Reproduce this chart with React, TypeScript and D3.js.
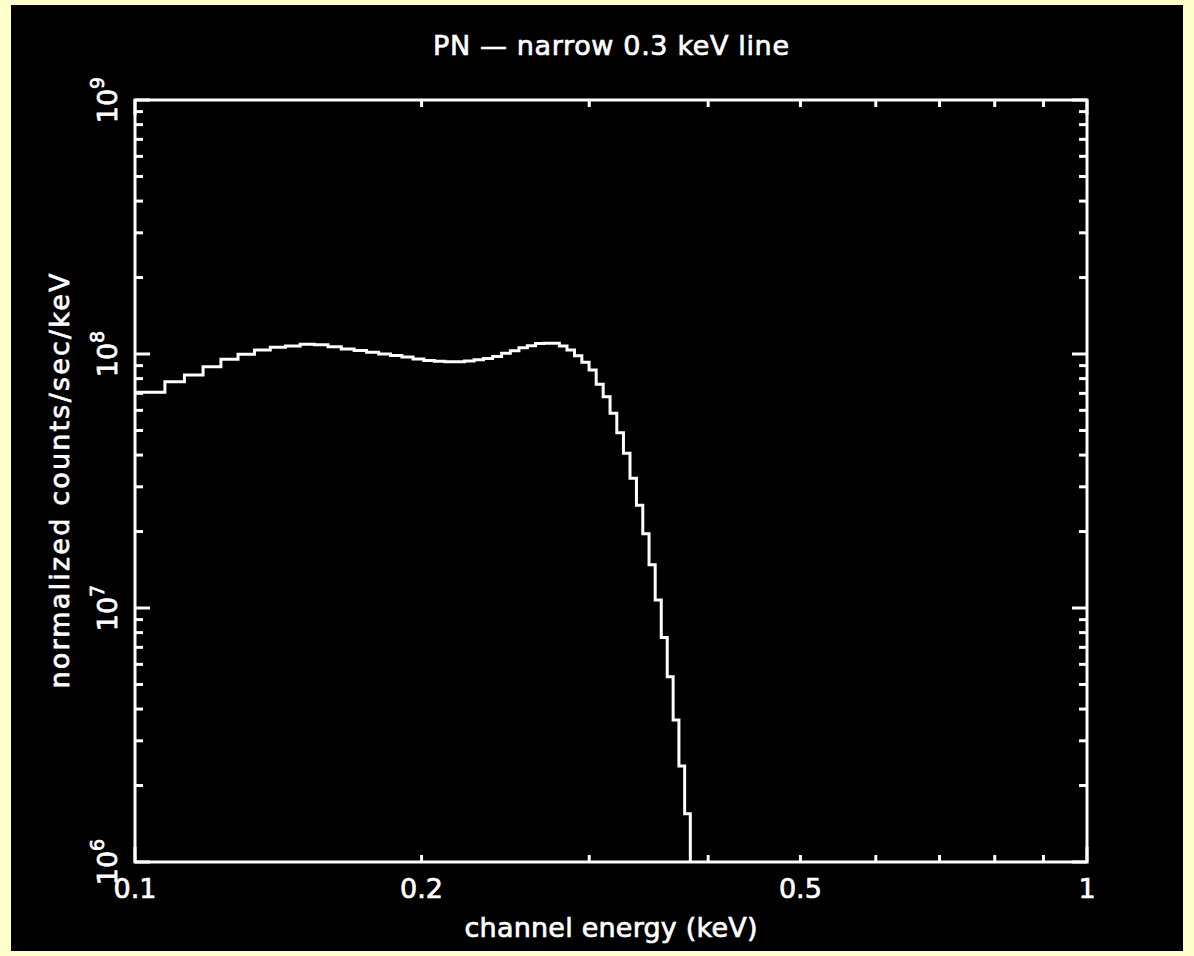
import React from "react";
import * as d3 from "d3";

// Channel energy bin edges (keV) of the model spectrum
const binEdges = [
  0.0971, 0.1023, 0.1075, 0.1127, 0.1179, 0.1231, 0.1283, 0.1335, 0.1387, 0.1439,
  0.1491, 0.1543, 0.1595, 0.1647, 0.1699, 0.1751, 0.1803, 0.1855, 0.1907, 0.1959,
  0.2011, 0.2063, 0.2115, 0.2167, 0.2219, 0.2271, 0.2323, 0.2375, 0.2427, 0.2479,
  0.2531, 0.2583, 0.2635, 0.2687, 0.2739, 0.2791, 0.2843, 0.2895, 0.2947, 0.2999,
  0.3051, 0.3103, 0.3155, 0.3207, 0.3259, 0.3311, 0.3363, 0.3415, 0.3467, 0.3519,
  0.3571, 0.3623, 0.3675, 0.3727, 0.3779, 0.3831, 0.3883,
];

// Normalized counts/sec/keV in each bin
const counts = [
  7.07e7, 7.07e7, 7.78e7, 8.27e7, 8.91e7, 9.53e7, 9.97e7, 1.037e8, 1.063e8, 1.075e8,
  1.092e8, 1.087e8, 1.068e8, 1.046e8, 1.032e8, 1.016e8, 1.0e8, 9.87e7, 9.73e7, 9.56e7,
  9.43e7, 9.37e7, 9.33e7, 9.33e7, 9.38e7, 9.49e7, 9.6e7, 9.78e7, 1.006e8, 1.03e8,
  1.059e8, 1.078e8, 1.1e8, 1.102e8, 1.102e8, 1.075e8, 1.037e8, 9.85e7, 9.28e7, 8.65e7,
  7.6e7, 6.79e7, 5.84e7, 4.9e7, 4.07e7, 3.24e7, 2.54e7, 1.96e7, 1.48e7, 1.075e7,
  7.66e6, 5.36e6, 3.62e6, 2.39e6, 1.55e6, 6.0e5,
];

const xTickLabels = [0.1, 0.2, 0.5, 1];
const yDecadeExponents = [6, 7, 8, 9];

const TITLE = "PN — narrow 0.3 keV line";
const X_TITLE = "channel energy (keV)";
const Y_TITLE = "normalized counts/sec/keV";

const W = 1194;
const H = 956;
const M = { left: 135, top: 100, right: 1087, bottom: 862 };
const FONT = "'DejaVu Sans', sans-serif";
const FG = "#ffffff";
const TEXT_STROKE = 0.7;

export default function App() {
  const x = d3.scaleLog().domain([0.1, 1]).range([M.left, M.right]);
  const y = d3.scaleLog().domain([1e6, 1e9]).range([M.bottom, M.top]);

  const pts: [number, number][] = binEdges.map((e, i) => [
    e,
    counts[Math.min(i, counts.length - 1)],
  ]);
  const stepLine = d3
    .line<[number, number]>()
    .x((d) => x(d[0]))
    .y((d) => y(d[1]))
    .curve(d3.curveStepAfter);

  const xTicks = x.ticks();
  const yTicks = y.ticks();
  const isDecade = (v: number) => Math.abs(Math.log10(v) - Math.round(Math.log10(v))) < 1e-6;

  const fmtX = (v: number) => (v >= 1 ? String(v) : String(+v.toFixed(1)));

  const textProps = {
    fill: FG,
    stroke: FG,
    strokeWidth: TEXT_STROKE,
    fontSize: 27,
  };

  return (
    <svg
      width={W}
      height={H}
      style={{ position: "absolute", left: 0, top: 0, display: "block" }}
      fontFamily={FONT}
    >
      <rect x={0} y={0} width={W} height={H} fill="#ffffcc" />
      <rect x={11} y={5} width={1172} height={946} fill="#000000" />
      <defs>
        <clipPath id="plotArea">
          <rect x={M.left} y={M.top} width={M.right - M.left} height={M.bottom - M.top} />
        </clipPath>
      </defs>

      {/* spectrum histogram */}
      <path
        d={stepLine(pts) || ""}
        fill="none"
        stroke={FG}
        strokeWidth={3}
        clipPath="url(#plotArea)"
      />

      {/* x ticks, bottom and top */}
      {xTicks.map((t, i) => {
        const len = isDecade(t) ? 15 : 7;
        const px = x(t);
        return (
          <g key={"xt" + i} stroke={FG} strokeWidth={3}>
            <line x1={px} x2={px} y1={M.bottom} y2={M.bottom - len} />
            <line x1={px} x2={px} y1={M.top} y2={M.top + len} />
          </g>
        );
      })}

      {/* y ticks, left and right */}
      {yTicks.map((t, i) => {
        const len = isDecade(t) ? 15 : 8;
        const py = y(t);
        return (
          <g key={"yt" + i} stroke={FG} strokeWidth={3}>
            <line x1={M.left} x2={M.left + len} y1={py} y2={py} />
            <line x1={M.right} x2={M.right - len} y1={py} y2={py} />
          </g>
        );
      })}

      {/* frame */}
      <rect
        x={M.left}
        y={M.top}
        width={M.right - M.left}
        height={M.bottom - M.top}
        fill="none"
        stroke={FG}
        strokeWidth={3}
      />

      {/* x tick labels */}
      {xTickLabels.map((v) => (
        <text key={"xl" + v} x={x(v)} y={898} textAnchor="middle" {...textProps}>
          {fmtX(v)}
        </text>
      ))}

      {/* y tick labels, rotated powers of ten */}
      {yDecadeExponents.map((e) => (
        <text
          key={"yl" + e}
          transform={`translate(117,${y(Math.pow(10, e))}) rotate(-90)`}
          textAnchor="middle"
          {...textProps}
        >
          10
          <tspan dy={-13} fontSize={19}>
            {e}
          </tspan>
        </text>
      ))}

      {/* titles */}
      <text
        x={(M.left + M.right) / 2}
        y={55}
        textAnchor="middle"
        textLength={356}
        lengthAdjust="spacing"
        {...textProps}
      >
        {TITLE}
      </text>
      <text
        x={(M.left + M.right) / 2}
        y={937}
        textAnchor="middle"
        textLength={293}
        lengthAdjust="spacing"
        {...textProps}
      >
        {X_TITLE}
      </text>
      <text
        transform={`translate(69,${(M.top + M.bottom) / 2}) rotate(-90)`}
        textAnchor="middle"
        textLength={415}
        lengthAdjust="spacing"
        {...textProps}
      >
        {Y_TITLE}
      </text>
    </svg>
  );
}
